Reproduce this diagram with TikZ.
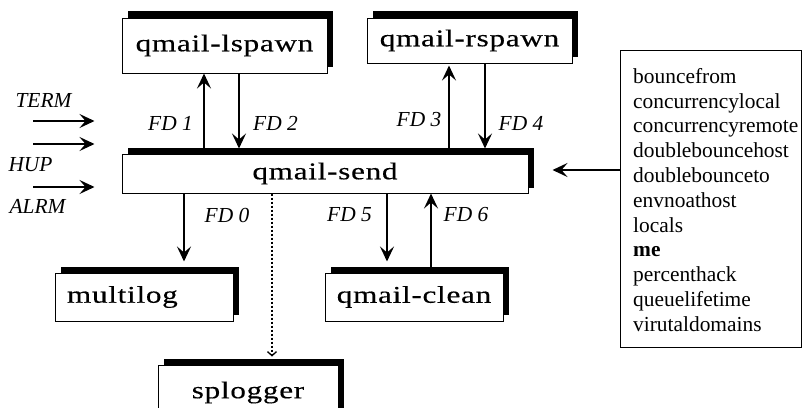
\documentclass[tikz,border=0pt]{standalone}
\usepackage{fontspec}
\setmainfont{Liberation Serif}
\newfontfamily\procfam[FakeStretch=1.3,LetterSpace=3,FakeBold=0.35]{Liberation Serif}
\usetikzlibrary{arrows.meta,shadows}

\begin{document}
\begin{tikzpicture}[x=1pt,y=-1pt,
  proc/.style={draw=black, line width=1pt, fill=white, inner sep=0pt,
    font=\procfam\fontsize{24}{28}\selectfont,
    drop shadow={shadow xshift=6pt, shadow yshift=6pt, fill=black, opacity=1}},
  tallshadow/.style={drop shadow={shadow xshift=6pt, shadow yshift=7pt, fill=black, opacity=1}},
  flow/.style={line width=1.8pt, -{Stealth[length=15pt,width=14pt,inset=6pt]}},
  logflow/.style={line width=2pt, dash pattern=on 2pt off 2pt,
    -{Straight Barb[length=4pt,width=9pt,line width=1.3pt]}},
  fd/.style={font=\itshape\fontsize{21.4}{24}\selectfont, inner sep=0pt},
  plain/.style={font=\fontsize{21.4}{24.8}\selectfont, inner sep=0pt}]

\clip (0,0) rectangle (802,407);

% processes
\node (lsp) [proc, tallshadow, minimum width=205pt, minimum height=55pt] at (224.5,45.5) {qmail-lspawn};
\node (rsp) [proc, tallshadow, minimum width=205pt, minimum height=45pt] at (469.5,40.5) {qmail-rspawn};
\node (send) [proc, drop shadow={shadow xshift=6pt, shadow yshift=5pt, fill=black, opacity=1},
  minimum width=406pt, minimum height=39pt] at (325,173.5) {qmail-send};
\node (mlog) [proc, minimum height=48pt, text width=154pt, inner xsep=12pt, align=left] at (144,297) {multilog};
\node (clean) [proc, minimum width=178pt, minimum height=48pt] at (414,297) {qmail-clean};
\node (splog) [proc, minimum width=180pt, minimum height=55pt] at (248,392.5) {splogger};

% control files
\node (params) [draw, line width=0.8pt, minimum width=181pt, minimum height=297pt, inner sep=0pt, anchor=north west] at (620,50) {};
\node (paramlist) [plain, anchor=north west, align=left] at (633,68)
  {bouncefrom\\concurrencylocal\\concurrencyremote\\doublebouncehost\\doublebounceto\\envnoathost\\locals\\\textbf{me}\\percenthack\\queuelifetime\\virutaldomains};

% signals
\coordinate (sigterm) at (33,121);
\coordinate (sighup) at (33,144);
\coordinate (sigalrm) at (33,187);
\node (term) [fd] at (43.5,100) {TERM};
\node (hup) [fd] at (30.5,165) {HUP};
\node (alrm) [fd] at (37.5,206) {ALRM};
\draw[flow, shorten >=27pt] (sigterm) -- (send.west |- sigterm);
\draw[flow, shorten >=27pt] (sighup) -- (send.west |- sighup);
\draw[flow, shorten >=27pt] (sigalrm) -- (send.west |- sigalrm);

% descriptors to the spawners
\draw[flow] (204,0 |- send.north) -- (204,0 |- lsp.south);
\draw[flow, shorten >=5pt] (239,0 |- lsp.south) -- (239,0 |- send.north);
\draw[flow, shorten >=2pt] (449,0 |- send.north) -- (449,0 |- rsp.south);
\draw[flow, shorten >=5pt] (485,0 |- rsp.south) -- (485,0 |- send.north);
\node (fd1) [fd] at (170.5,123) {FD 1};
\node (fd2) [fd] at (275.5,123) {FD 2};
\node (fd3) [fd] at (419,120) {FD 3};
\node (fd4) [fd] at (521,123) {FD 4};

% descriptors to logging and cleanup
\draw[flow, shorten >=11pt] (184,0 |- send.south) -- (184,0 |- mlog.north);
\draw[flow, shorten >=11pt] (387,0 |- send.south) -- (387,0 |- clean.north);
\draw[flow] (431,0 |- clean.north) -- (431,0 |- send.south);
\draw[logflow, shorten >=8pt] (272,0 |- send.south) -- (272,0 |- splog.north);
\node (fd0) [fd] at (227,215) {FD 0};
\node (fd5) [fd] at (349.5,215) {FD 5};
\node (fd6) [fd] at (466,215) {FD 6};

% configuration input
\draw[flow, shorten >=24pt] (params.west |- 0,170) -- (send.east |- 0,170);
\end{tikzpicture}
\end{document}
